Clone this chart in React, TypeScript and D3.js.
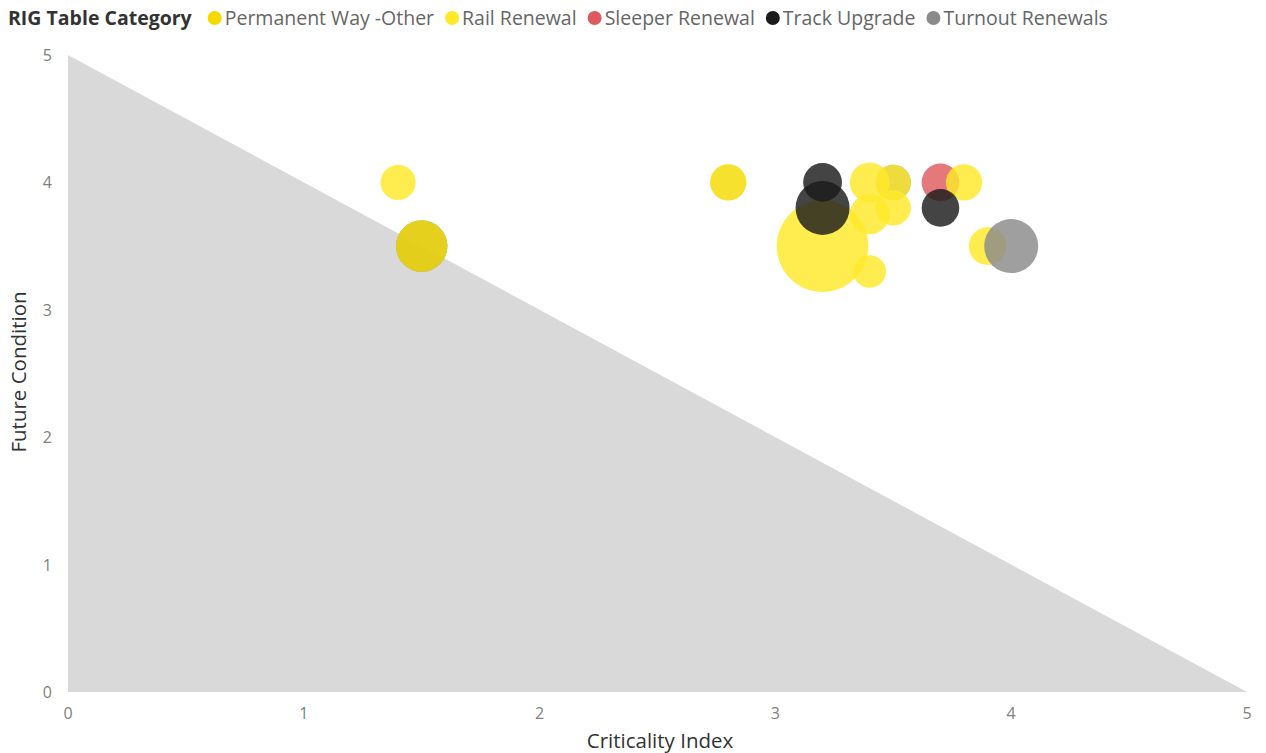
import React, { useEffect, useRef } from "react";
import * as d3 from "d3";

const categories = ["Permanent Way -Other", "Rail Renewal", "Sleeper Renewal", "Track Upgrade", "Turnout Renewals"];
const categoryColors = ["#F4DA00", "#FFE928", "#DE5A5E", "#1B1B1B", "#8A8A8A"];

// each bubble: category, criticality index (x), future condition (y), size
const pointCategory = [
  "Turnout Renewals",
  "Rail Renewal",
  "Turnout Renewals",
  "Permanent Way -Other",
  "Permanent Way -Other",
  "Rail Renewal",
  "Rail Renewal",
  "Rail Renewal",
  "Rail Renewal",
  "Rail Renewal",
  "Rail Renewal",
  "Track Upgrade",
  "Track Upgrade",
  "Sleeper Renewal",
  "Rail Renewal",
  "Track Upgrade",
  "Rail Renewal",
  "Turnout Renewals",
];
const pointX = [3.5, 1.4, 1.5, 1.5, 2.8, 3.2, 3.4, 3.4, 3.5, 3.4, 3.5, 3.2, 3.2, 3.7, 3.8, 3.7, 3.9, 4.0];
const pointY = [4.0, 4.0, 3.5, 3.5, 4.0, 3.5, 4.0, 3.75, 3.8, 3.3, 4.0, 4.0, 3.8, 4.0, 4.0, 3.8, 3.5, 3.5];
const pointSize = [14, 14, 30, 30, 15, 95, 18, 18, 14, 12, 14, 17, 33, 16, 15, 16, 16, 33];

const xTicks = [0, 1, 2, 3, 4, 5];
const yTicks = [0, 1, 2, 3, 4, 5];
const boundary = [
  { x: 0, y: 5 },
  { x: 5, y: 0 },
];

export default function App() {
  const ref = useRef<SVGSVGElement | null>(null);

  useEffect(() => {
    const svg = d3.select(ref.current);
    svg.selectAll("*").remove();
    const x = d3.scaleLinear().domain([0, 5]).range([68, 1247]);
    const y = d3.scaleLinear().domain([0, 5]).range([692, 55]);
    const r = d3.scaleSqrt().domain([0, 100]).range([0, 47]);
    const color = d3.scaleOrdinal<string, string>().domain(categories).range(categoryColors);
    const font = "'Open Sans', 'Noto Sans', sans-serif";

    // background triangle
    const area = d3
      .area<{ x: number; y: number }>()
      .x((d) => x(d.x))
      .y0(y(0))
      .y1((d) => y(d.y));
    svg.append("path").datum(boundary).attr("d", area).attr("fill", "#D9D9D9");

    // x tick labels
    svg
      .append("g")
      .selectAll("text")
      .data(xTicks)
      .join("text")
      .attr("x", (d) => x(d))
      .attr("y", 719)
      .attr("text-anchor", "middle")
      .attr("font-family", font)
      .attr("font-size", 16)
      .attr("fill", "#808080")
      .text((d) => d);

    // y tick labels
    svg
      .append("g")
      .selectAll("text")
      .data(yTicks)
      .join("text")
      .attr("x", 52)
      .attr("y", (d) => y(d) + 6)
      .attr("text-anchor", "end")
      .attr("font-family", font)
      .attr("font-size", 16)
      .attr("fill", "#808080")
      .text((d) => d);

    // axis titles
    svg
      .append("text")
      .attr("x", 660)
      .attr("y", 748)
      .attr("text-anchor", "middle")
      .attr("font-family", font)
      .attr("font-size", 20.5)
      .attr("font-weight", 500)
      .attr("fill", "#333")
      .text("Criticality Index");
    svg
      .append("text")
      .attr("transform", `translate(26,372) rotate(-90)`)
      .attr("text-anchor", "middle")
      .attr("font-family", font)
      .attr("font-size", 20.5)
      .attr("font-weight", 500)
      .attr("fill", "#333")
      .text("Future Condition");

    // bubbles
    const pts = pointX.map((px, i) => ({ x: px, y: pointY[i], s: pointSize[i], c: pointCategory[i] }));
    svg
      .append("g")
      .selectAll("circle")
      .data(pts)
      .join("circle")
      .attr("cx", (d) => x(d.x))
      .attr("cy", (d) => y(d.y))
      .attr("r", (d) => r(d.s))
      .attr("fill", (d) => color(d.c))
      .attr("fill-opacity", 0.82);

    // legend
    const lg = svg.append("g").attr("transform", "translate(0,25)");
    const title = lg
      .append("text")
      .attr("x", 8)
      .attr("y", 0)
      .attr("font-family", font)
      .attr("font-size", 19.5)
      .attr("font-weight", "bold")
      .attr("fill", "#333")
      .text("RIG Table Category");
    let cx = 8 + (title.node() as SVGTextElement).getComputedTextLength() + 16;
    categories.forEach((c) => {
      lg.append("circle").attr("cx", cx + 7).attr("cy", -7).attr("r", 7).attr("fill", color(c));
      const t = lg
        .append("text")
        .attr("x", cx + 17)
        .attr("y", 0)
        .attr("font-family", font)
        .attr("font-size", 19.5)
        .attr("fill", "#666")
        .text(c);
      cx += 17 + (t.node() as SVGTextElement).getComputedTextLength() + 11;
    });
  }, []);

  return (
    <svg
      ref={ref}
      width={1266}
      height={753}
      style={{ position: "absolute", left: 0, top: 0, background: "#fff" }}
    />
  );
}
